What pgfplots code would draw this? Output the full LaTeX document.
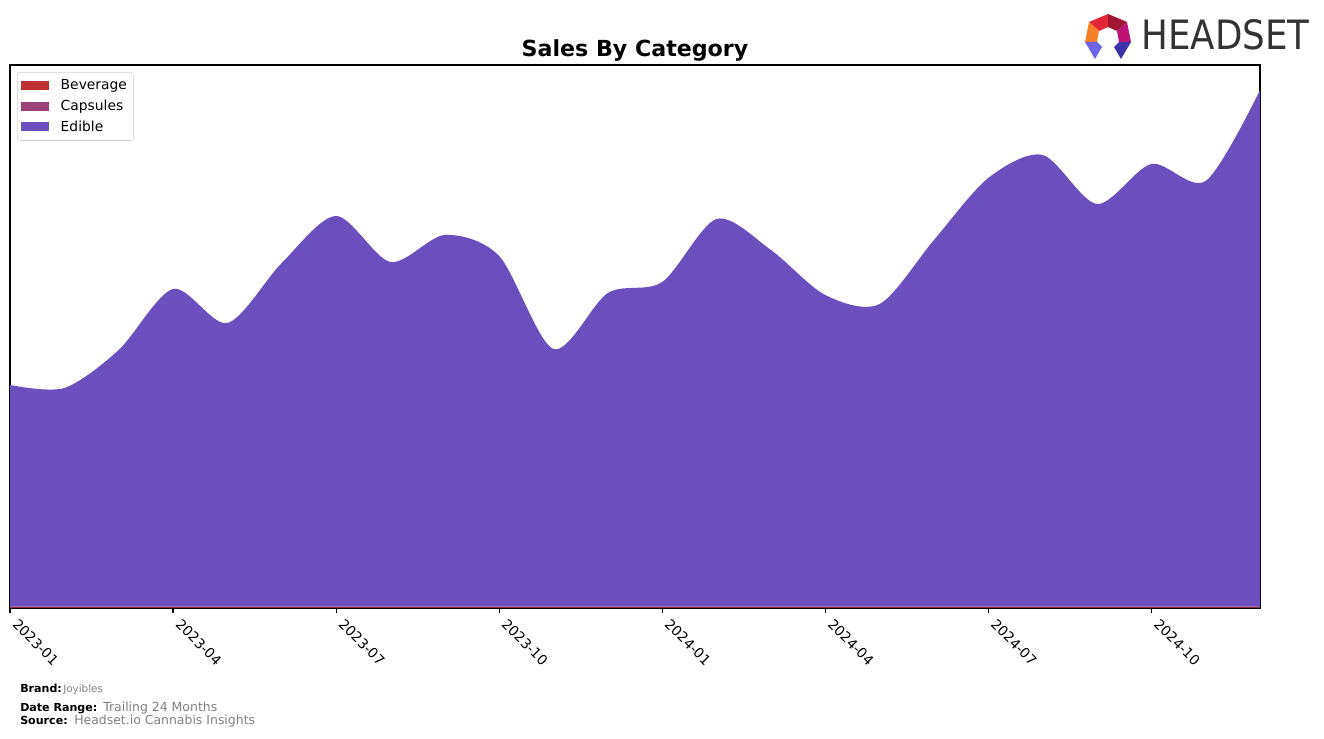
\documentclass[border=0pt]{standalone}
\usepackage{fontspec}
\setmainfont{DejaVu Sans}
\usepackage{pgfplots}
\usepackage{pgfplotstable}
\pgfplotsset{compat=1.18}
\usepackage{graphicx}
\definecolor{edible}{RGB}{106,79,189}
\definecolor{beverage}{RGB}{192,50,50}
\definecolor{capsules}{RGB}{155,64,121}
\definecolor{footgray}{RGB}{128,128,128}
\definecolor{logogray}{RGB}{51,51,51}

\pgfplotstableread{
m bev caps edible
0  0.3 1.0 221.7
1  0.3 1.0 218.7
2  0.3 1.0 256.7
3  0.3 1.0 317.7
4  0.3 1.0 283.7
5  0.3 1.0 343.7
6  0.3 1.0 390.7
7  0.3 1.0 344.7
8  0.3 1.0 371.7
9  0.3 1.0 350.7
10 0.3 1.0 257.7
11 0.3 1.0 313.7
12 0.3 1.0 324.7
13 0.3 1.0 387.7
14 0.3 1.0 356.7
15 0.3 1.0 311.7
16 0.3 1.0 302.7
17 0.3 1.0 366.7
18 0.3 1.0 428.7
19 0.3 1.0 451.7
20 0.3 1.0 402.7
21 0.3 1.0 442.7
22 0.3 1.0 425.7
23 0.3 1.0 516.7
}\salesdata

\begin{document}
\begin{tikzpicture}[x=0.72bp,y=0.72bp]
\path[use as bounding box] (0,0) rectangle (1324,738);
\begin{axis}[
  at={(7.2bp,93.6bp)}, anchor=south west,
  scale only axis, width=900bp, height=390.96bp,
  xmin=0, xmax=23, ymin=0, ymax=543,
  stack plots=y,
  axis line style={line width=0.8bp, black},
  xtick={0,3,6,9,12,15,18,21},
  xticklabels={2023-01,2023-04,2023-07,2023-10,2024-01,2024-04,2024-07,2024-10},
  ytick=\empty,
  xtick pos=lower,
  tick align=outside,
  major tick length=3.5bp,
  every tick/.style={black, line width=0.8bp},
  xticklabel style={font=\fontsize{10}{12}\selectfont, rotate=-45, anchor=north west, inner sep=0pt, xshift=7.1bp, yshift=2.1bp},
  legend style={at={(0.0056,0.987)}, anchor=north west, draw=black!18, rounded corners=2bp,
    font=\fontsize{10}{12}\selectfont, inner xsep=3bp, inner ysep=3.5bp, row sep=2.2bp,
    nodes={inner sep=1.8bp},
    /tikz/every odd column/.append style={column sep=7bp}},
  legend cell align=left,
  legend image code/.code={\fill[#1, sharp corners] (0bp,-3.3bp) rectangle (19.5bp,3.3bp);},
]
\addplot[fill=beverage, draw=none, smooth] table[x=m, y=bev] {\salesdata} \closedcycle;
\addlegendentry{Beverage}
\addplot[fill=capsules, draw=none, smooth] table[x=m, y=caps] {\salesdata} \closedcycle;
\addlegendentry{Capsules}
\addplot[fill=edible, draw=none, smooth] table[x=m, y=edible] {\salesdata} \closedcycle;
\addlegendentry{Edible}
\end{axis}

% title
\node[anchor=base, font=\fontsize{16}{19}\selectfont\bfseries, inner sep=0] at (635,681) {Sales By Category};

% footer
\node[anchor=base west, font=\fontsize{8}{10}\selectfont\bfseries, inner sep=0] at (20,46) {Brand:};
\node[anchor=base west, font=\fontsize{7.5}{9}\selectfont, text=footgray, inner sep=0] at (63,46) {Joyibles};
\node[anchor=base west, font=\fontsize{8}{10}\selectfont\bfseries, inner sep=0] at (20,27) {Date Range:};
\node[anchor=base west, font=\fontsize{9}{11}\selectfont, text=footgray, inner sep=0] at (103,27) {Trailing 24 Months};
\node[anchor=base west, font=\fontsize{8}{10}\selectfont\bfseries, inner sep=0] at (20,14) {Source:};
\node[anchor=base west, font=\fontsize{9}{11}\selectfont, text=footgray, inner sep=0] at (74,14) {Headset.io Cannabis Insights};

% logo text
\node[anchor=south west, inner sep=0, text=logogray] at (1141,688) {\resizebox{121bp}{21.6bp}{HEADSET}};
% logo icon (image y -> 738 - y)
\coordinate (OT) at (1108,724);
\coordinate (OUR) at (1127,716);
\coordinate (OR) at (1131,696);
\coordinate (OUL) at (1089,716);
\coordinate (OL) at (1085,696);
\coordinate (IT) at (1108,711);
\coordinate (IUR) at (1117,707);
\coordinate (IR) at (1119,696);
\coordinate (IUL) at (1099,707);
\coordinate (IL) at (1097,696);
\fill[color={rgb,255:red,226;green,38;blue,52}] (OUL) -- (OT) -- (IT) -- (IUL) -- cycle;
\fill[color={rgb,255:red,160;green,20;blue,52}] (OT) -- (OUR) -- (IUR) -- (IT) -- cycle;
\fill[color={rgb,255:red,245;green,128;blue,40}] (OUL) -- (IUL) -- (IL) -- (OL) -- cycle;
\fill[color={rgb,255:red,190;green,20;blue,120}] (OUR) -- (OR) -- (IR) -- (IUR) -- cycle;
\fill[color={rgb,255:red,110;green,100;blue,230}] (OL) -- (IL) -- (1102,691) -- (1095,679) -- cycle;
\fill[color={rgb,255:red,60;green,50;blue,170}] (OR) -- (IR) -- (1114,691) -- (1121,679) -- cycle;
\end{tikzpicture}
\end{document}
